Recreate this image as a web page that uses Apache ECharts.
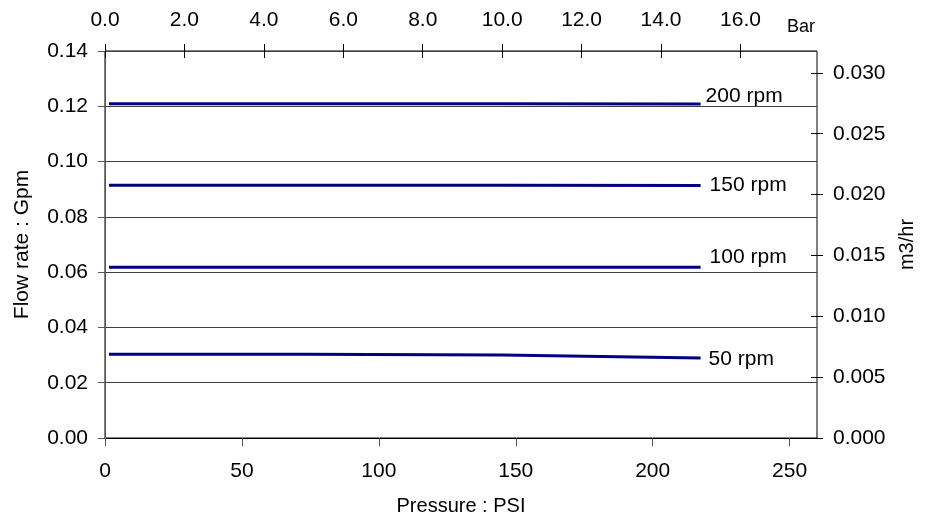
<!DOCTYPE html>
<html>
<head>
<meta charset="utf-8">
<script src="https://cdn.jsdelivr.net/npm/echarts@6/dist/echarts.min.js"></script>
<style>html,body{margin:0;padding:0;background:#fff}#c{width:929px;height:521px}</style>
</head>
<body>
<div id="c"></div>
<script>
// Data
var pressurePsi = [1.45, 72.5, 145, 217.5];
var rpm200 = [0.1209, 0.1209, 0.1209, 0.1208];
var rpm150 = [0.0914, 0.0914, 0.0914, 0.0913];
var rpm100 = [0.0618, 0.0618, 0.0618, 0.0618];
var rpm50  = [0.0303, 0.0303, 0.0300, 0.0289];
var seriesNames = ['200 rpm', '150 rpm', '100 rpm', '50 rpm'];
var psiTicks = [0, 50, 100, 150, 200, 250];
var barTicks = [0, 2, 4, 6, 8, 10, 12, 14, 16];
var gpmTicks = [0, 0.02, 0.04, 0.06, 0.08, 0.10, 0.12, 0.14];
var m3hrTicks = [0, 0.005, 0.010, 0.015, 0.020, 0.025, 0.030];

var PSI_MAX = 260;
var PSI_PER_BAR = 14.5038;
var GPM_MAX = 0.14;
var GPM_TO_M3HR = 0.2271247;

var FONT = 'Liberation Sans, Arial, sans-serif';
var FS = 21;
var txt = {color: '#000', fontFamily: FONT, fontSize: FS};

function pts(vals) { return pressurePsi.map(function (p, i) { return [p, vals[i]]; }); }

var labelOffsets = [[0, -8], [4, 0], [4, -10], [3, 1]];
var allVals = [rpm200, rpm150, rpm100, rpm50];

var chart = echarts.init(document.getElementById('c'), null, {renderer: 'canvas'});
chart.setOption({
  animation: false,
  backgroundColor: '#fff',
  grid: {left: 105, right: 112, top: 51, bottom: 82, containLabel: false,
         show: true, borderColor: '#000', borderWidth: 1, backgroundColor: 'transparent'},
  xAxis: [
    { type: 'value', position: 'bottom', min: 0, max: PSI_MAX, interval: 50,
      name: 'Pressure : PSI', nameLocation: 'middle', nameGap: 58,
      nameTextStyle: {color: '#000', fontFamily: FONT, fontSize: 20},
      axisLine: {show: true, onZero: false, lineStyle: {color: '#000', width: 1}},
      axisTick: {show: true, inside: false, length: 8, lineStyle: {color: '#555'}, customValues: psiTicks},
      axisLabel: Object.assign({margin: 23, customValues: psiTicks, formatter: function (v) { return String(v); }}, txt),
      splitLine: {show: false}
    },
    { type: 'value', position: 'top', offset: -7, min: 0, max: PSI_MAX / PSI_PER_BAR, interval: 2,
      axisLine: {show: false, onZero: false},
      axisTick: {show: true, inside: false, length: 14, lineStyle: {color: '#000'}, customValues: barTicks},
      axisLabel: Object.assign({margin: 27, customValues: barTicks, formatter: function (v) { return v.toFixed(1); }}, txt),
      splitLine: {show: false}
    }
  ],
  yAxis: [
    { type: 'value', position: 'left', min: 0, max: GPM_MAX, interval: 0.02,
      name: 'Flow rate : Gpm', nameLocation: 'middle', nameGap: 72,
      nameTextStyle: {color: '#000', fontFamily: FONT, fontSize: FS},
      axisLine: {show: true, onZero: false, lineStyle: {color: '#555', width: 1}},
      axisTick: {show: true, inside: false, length: 7, lineStyle: {color: '#555'}, customValues: gpmTicks},
      axisLabel: Object.assign({margin: 17, customValues: gpmTicks, formatter: function (v) { return v.toFixed(2); }}, txt),
      splitLine: {show: true, lineStyle: {color: '#404040', width: 1}}
    },
    { type: 'value', position: 'right', offset: -6, min: 0, max: GPM_MAX * GPM_TO_M3HR, interval: 0.005,
      name: 'm3/hr', nameLocation: 'middle', nameGap: 86,
      nameTextStyle: {color: '#000', fontFamily: FONT, fontSize: 20},
      axisLine: {show: false, onZero: false},
      axisTick: {show: true, inside: false, length: 12, lineStyle: {color: '#000'}, customValues: m3hrTicks},
      axisLabel: Object.assign({margin: 22, customValues: m3hrTicks, formatter: function (v) { return v.toFixed(3); }}, txt),
      splitLine: {show: false}
    }
  ],
  graphic: [
    {type: 'text', left: 787, top: 18, style: {text: 'Bar', fill: '#000', font: '18px ' + FONT}}
  ],
  series: allVals.map(function (vals, i) {
    return {
      type: 'line', name: seriesNames[i], xAxisIndex: 0, yAxisIndex: 0,
      data: pts(vals), showSymbol: false, symbol: 'none', smooth: false,
      lineStyle: {color: '#000080', width: 3},
      endLabel: {show: true, formatter: seriesNames[i], color: '#000', fontFamily: FONT, fontSize: FS,
                 distance: 5, offset: labelOffsets[i]},
      z: 3
    };
  })
});
</script>
</body>
</html>
